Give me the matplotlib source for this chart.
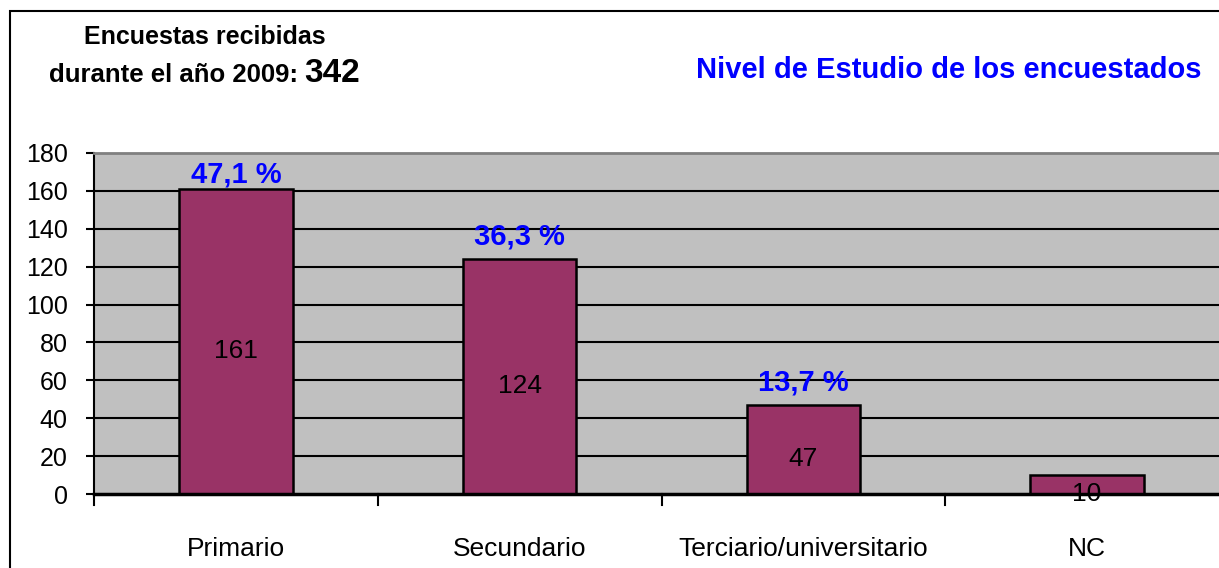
import matplotlib.pyplot as plt
from matplotlib.patches import Rectangle

plt.rcParams['font.family'] = ['Liberation Sans', 'DejaVu Sans']

categorias = ['Primario', 'Secundario', 'Terciario/universitario', 'NC']
encuestas = [161, 124, 47, 10]
porcentajes = ['47,1 %', '36,3 %', '13,7 %', None]
total = 342

W, H = 1219, 568
fig = plt.figure(figsize=(W / 100, H / 100), dpi=100)

# outer frame of the chart object (right and bottom fall outside the picture)
fig.patches.append(Rectangle((10 / W, -0.05), 1.2, 1 - 11 / H + 0.05,
                             transform=fig.transFigure, fill=False,
                             edgecolor='black', linewidth=1.5))

# plot area: x 94..1229 px, y 153..494 px
ax = fig.add_axes([94 / W, (H - 494) / H, (1229 - 94) / W, (494 - 153) / H])
ax.set_facecolor('#C0C0C0')
x = list(range(len(categorias)))
ax.bar(x, encuestas, width=0.4, color='#993366', edgecolor='black',
       linewidth=1.8, zorder=3)

ax.set_xlim(-0.5, len(categorias) - 0.5)
ax.set_ylim(0, 180)
ax.set_yticks(range(0, 181, 20))
ax.tick_params(axis='y', labelsize=18, length=6, width=1.5, pad=13, direction='out')
for v in range(20, 180, 20):
    ax.axhline(v, color='black', linewidth=1.5, zorder=1)

ax.set_xticks(x)
ax.set_xticklabels(categorias, fontsize=19)
ax.tick_params(axis='x', length=0, pad=31)
for b in [i - 0.5 for i in range(len(categorias) + 1)]:
    ax.plot([b, b], [0, -0.032], transform=ax.get_xaxis_transform(),
            color='black', linewidth=1.5, clip_on=False)

ax.spines['right'].set_visible(False)
ax.spines['top'].set_color('#808080')
ax.spines['top'].set_linewidth(2)
ax.spines['left'].set_linewidth(1.5)
ax.spines['bottom'].set_linewidth(2.5)
ax.spines['bottom'].set_zorder(4)

for i, (v, p) in enumerate(zip(encuestas, porcentajes)):
    ax.annotate(str(v), (i, v / 2), xytext=(0, -7), textcoords='offset points',
                ha='center', va='center', fontsize=19, zorder=5)
    if p:
        ax.text(i, min(v + 12, 168.5), p, ha='center', va='center',
                fontsize=21, fontweight='bold', color='#0000FF', zorder=5)

fig.text(205 / W, 1 - 37 / H, 'Encuestas recibidas', ha='center', va='center',
         fontsize=18, fontweight='bold')
fig.text(298 / W, 1 - 75 / H, 'durante el año 2009:', ha='right', va='center',
         fontsize=18.5, fontweight='bold')
fig.text(304 / W, 1 - 73 / H, str(total), ha='left', va='center',
         fontsize=24, fontweight='bold')
fig.text(1201 / W, 1 - 70 / H, 'Nivel de Estudio de los encuestados',
         ha='right', va='center', fontsize=21, fontweight='bold', color='#0000FF')

fig.savefig('out.png', dpi=100)
